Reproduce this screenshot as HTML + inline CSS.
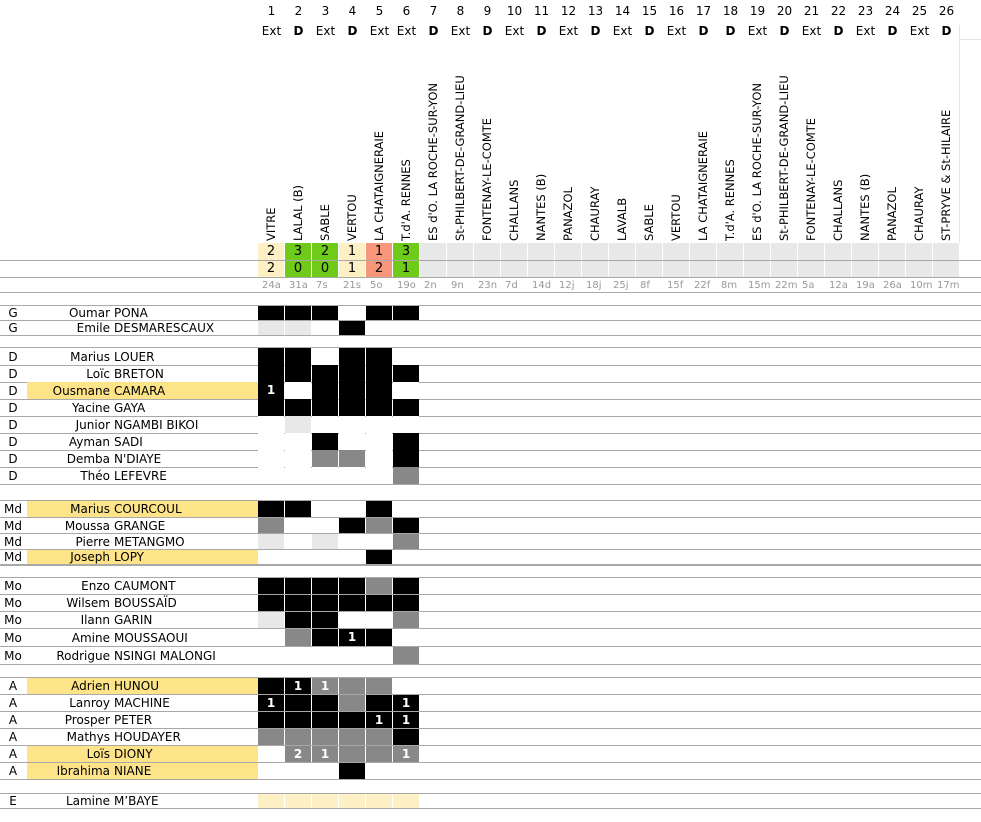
<!DOCTYPE html>
<html><head><meta charset="utf-8"><style>
body{margin:0;width:981px;height:822px;background:#fff;position:relative;overflow:hidden;font-family:"DejaVu Sans","Liberation Sans",sans-serif;color:#000}
div{position:absolute;box-sizing:border-box}
.c{text-align:center}
.rot{transform-origin:0 0;transform:rotate(-90deg);white-space:nowrap;font-size:11.5px;line-height:14px}
.ln{left:0;width:981px;height:1px;background:#a8a8a8}
.num{color:#fff;font-weight:bold;font-size:12px;text-align:center;line-height:14px}
</style></head><body>
<script>
const X0=258,W=27;
const labels=["VITRE","LALAL (B)","SABLE","VERTOU","LA CHATAIGNERAIE","T.d'A. RENNES","ES d'O. LA ROCHE-SUR-YON","St-PHILBERT-DE-GRAND-LIEU","FONTENAY-LE-COMTE","CHALLANS","NANTES (B)","PANAZOL","CHAURAY","LAVALB","SABLE","VERTOU","LA CHATAIGNERAIE","T.d'A. RENNES","ES d'O. LA ROCHE-SUR-YON","St-PHILBERT-DE-GRAND-LIEU","FONTENAY-LE-COMTE","CHALLANS","NANTES (B)","PANAZOL","CHAURAY","ST-PRYVE & St-HILAIRE"];
const typ="E D E D E E D E D E D E D E D E D D E D E D E D E D".split(" ");
const dates=["24a","31a","7s","21s","5o","19o","2n","9n","23n","7d","14d","12j","18j","25j","8f","15f","22f","8m","15m","22m","5a","12a","19a","26a","10m","17m"];
let h="";
for(let i=0;i<26;i++){const x=X0+i*W;
h+=`<div class="c" style="left:${x}px;top:4px;width:${W}px;font-size:12px">${i+1}</div>`;
h+=`<div class="c" style="left:${x}px;top:24px;width:${W}px;font-size:12px;${typ[i]=='D'?'font-weight:bold':''}">${typ[i]=='D'?'D':'Ext'}</div>`;
h+=`<div class="rot" style="left:${x+6}px;top:241px">${labels[i]}</div>`;
h+=`<div style="left:${x+4}px;top:280px;font-size:10px;color:#999">${dates[i]}</div>`;
}
h+=`<div style="left:959px;top:25px;width:1px;height:218px;background:#e4e4e4"></div><div style="left:959px;top:39px;width:22px;height:1px;background:#e4e4e4"></div>`;
const s1=[2,3,2,1,1,3],s2=[2,0,0,1,2,1],sc=["#fdf0c4","#6ecb1a","#6ecb1a","#fdf0c4","#f7967a","#6ecb1a"],sc2=["#fdf0c4","#6ecb1a","#6ecb1a","#fdf0c4","#f7967a","#6ecb1a"];
for(let i=0;i<26;i++){const x=X0+i*W;const bg=i<6?sc[i]:"#e8e8e8";
h+=`<div class="c" style="left:${x}px;top:243px;width:${W-1}px;height:17px;background:${bg};font-size:13px;line-height:17px">${i<6?s1[i]:''}</div>`;
h+=`<div class="c" style="left:${x}px;top:261px;width:${W-1}px;height:16px;background:${bg};font-size:13px;line-height:16px">${i<6?s2[i]:''}</div>`;}
[260,277,292,305].forEach(y=>h+=`<div class="ln" style="top:${y}px"></div>`);
const col={B:"#000",G:"#888",L:"#e8e8e8",W:"#fff",Y:"#fdf0c4"};
const rows=[
["G","Oumar","PONA",306,14,"B B B W B B",0],
["G","Emile","DESMARESCAUX",321,14,"L L W B W W",0],
["D","Marius","LOUER",348,17,"B B W B B W",0],
["D","Loïc","BRETON",365,17,"B B B B B B",0],
["D","Ousmane","CAMARA",382,17,"B1 W B B B W",1],
["D","Yacine","GAYA",399,17,"B B B B B B",0],
["D","Junior","NGAMBI BIKOI",416,17,"W L W W W W",0],
["D","Ayman","SADI",433,17,"W W B W W B",0],
["D","Demba","N'DIAYE",450,17,"W W G G W B",0],
["D","Théo","LEFEVRE",467,17,"W W W W W G",0],
["Md","Marius","COURCOUL",501,16,"B B W W B W",1],
["Md","Moussa","GRANGE",518,15,"G W W B G B",0],
["Md","Pierre","METANGMO",534,15,"L W L W W G",0],
["Md","Joseph","LOPY",550,14,"W W W W B W",1],
["Mo","Enzo","CAUMONT",578,16,"B B B B G B",0],
["Mo","Wilsem","BOUSSAÏD",595,16,"B B B B B B",0],
["Mo","Ilann","GARIN",612,16,"L B B W W G",0],
["Mo","Amine","MOUSSAOUI",629,17,"W G B B1 B W",0],
["Mo","Rodrigue","NSINGI MALONGI",647,17,"W W W W W G",0],
["A","Adrien","HUNOU",678,16,"B B1 G1 G G W",1],
["A","Lanroy","MACHINE",695,16,"B1 B B G B B1",0],
["A","Prosper","PETER",712,16,"B B B B B1 B1",0],
["A","Mathys","HOUDAYER",729,16,"G G G G G B",0],
["A","Loïs","DIONY",746,16,"W G2 G1 G G G1",1],
["A","Ibrahima","NIANE",763,16,"W W W B W W",1],
["E","Lamine","M’BAYE",794,14,"Y Y Y Y Y Y",0]];
rows.forEach(r=>{const [p,f,l,y,hh,cells,hl]=r;const mid=y+hh/2;
if(hl)h+=`<div style="left:27px;top:${y}px;width:231px;height:${hh}px;background:#fde488"></div>`;
h+=`<div class="c" style="left:0;top:${mid-8}px;width:26px;font-size:12px;line-height:16px">${p}</div>`;
h+=`<div style="right:${981-110}px;top:${mid-8}px;font-size:12px;line-height:16px;text-align:right;white-space:nowrap">${f}</div>`;
h+=`<div style="left:114px;top:${mid-8}px;font-size:12px;line-height:16px;white-space:nowrap">${l}</div>`;
cells.split(" ").forEach((c,i)=>{const x=X0+i*W;const n=c.slice(1);
h+=`<div class="num" style="left:${x}px;top:${y}px;width:${W-1}px;height:${hh}px;background:${col[c[0]]};line-height:${hh}px">${n}</div>`;});
h+=`<div class="ln" style="top:${y+hh}px"></div>`;});
[347,484,500,565,577,664,677,779,793].forEach(y=>h+=`<div class="ln" style="top:${y}px"></div>`);
document.write(h);
</script>
</body></html>
